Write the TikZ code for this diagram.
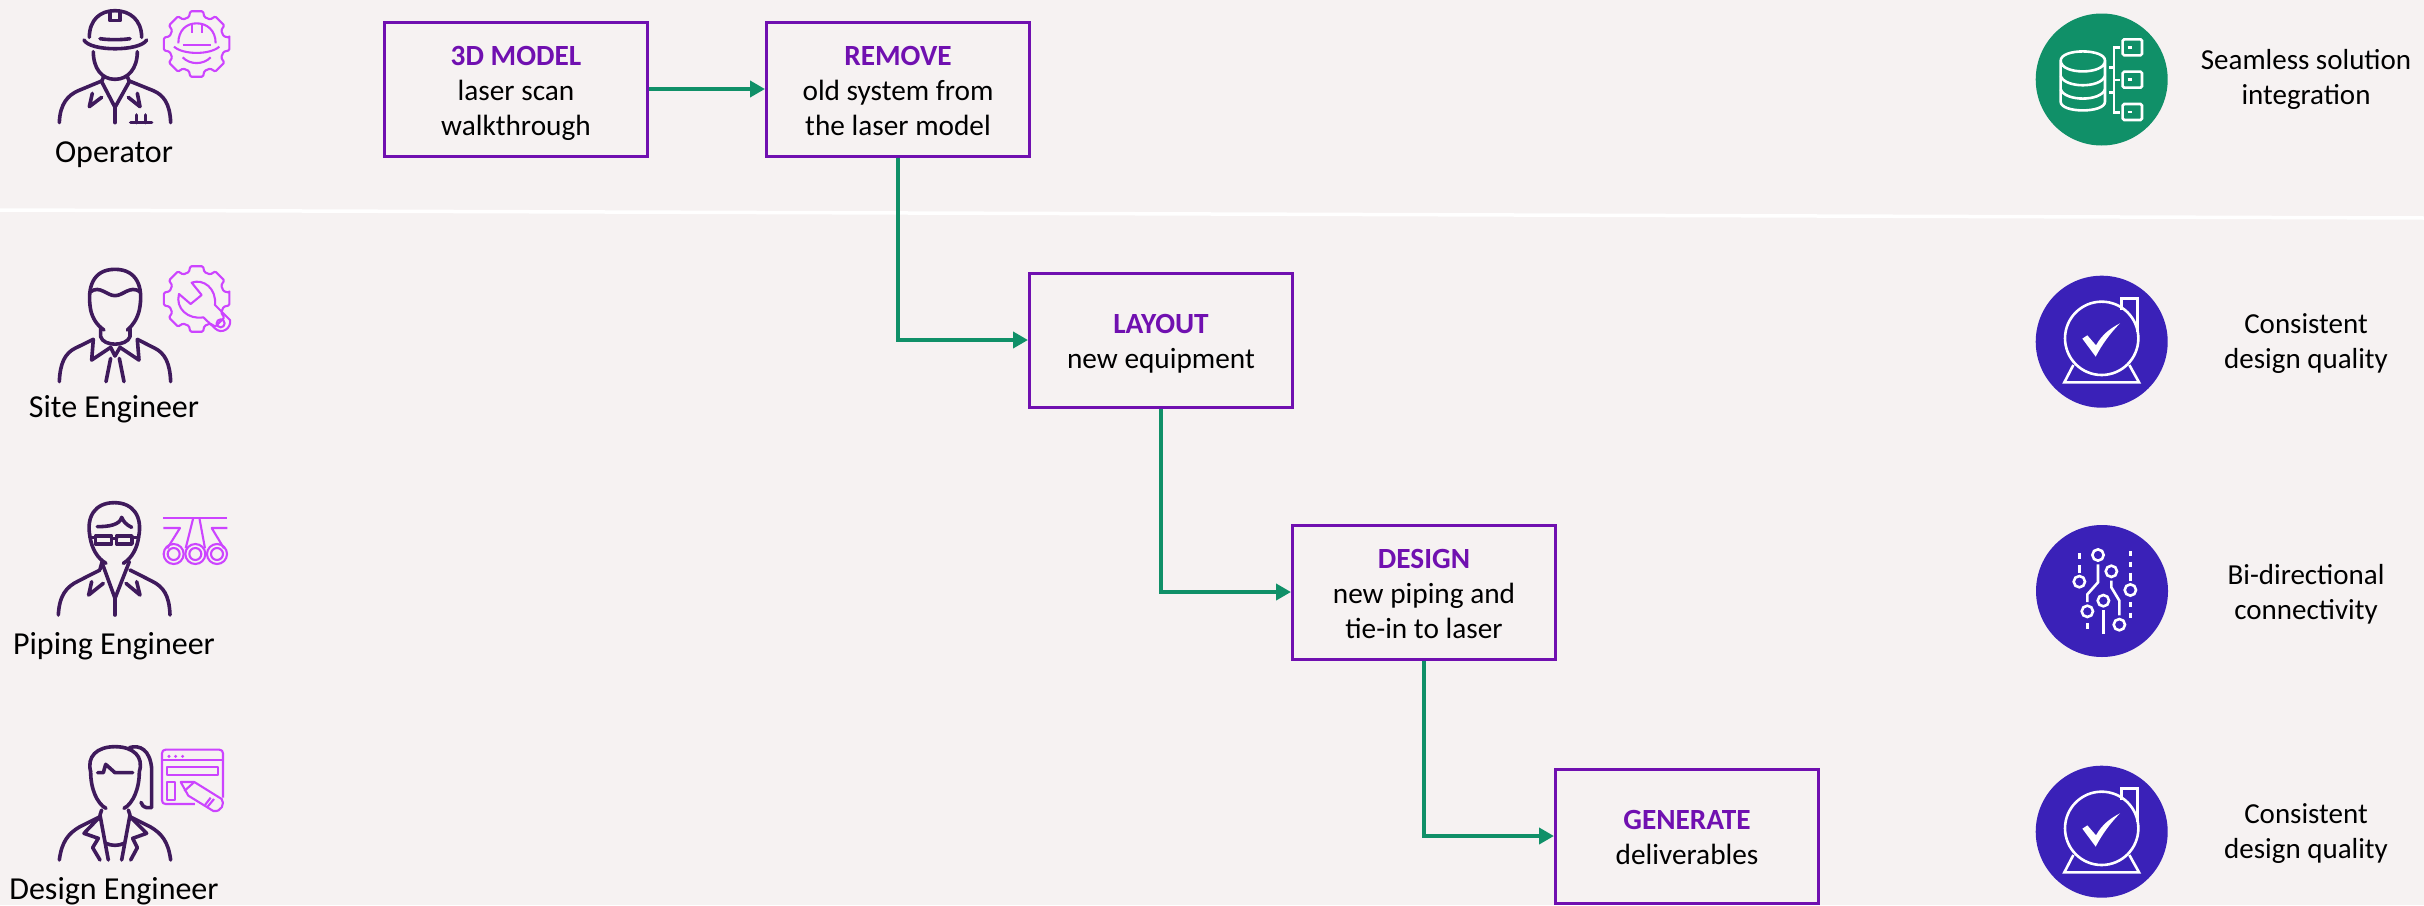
\documentclass[tikz,border=0pt]{standalone}
\usepackage{fontspec}
\setmainfont{Carlito}
\usetikzlibrary{arrows.meta,calc}
\definecolor{bgc}{HTML}{F6F2F2}
\definecolor{boxp}{HTML}{7010B0}
\definecolor{arrowg}{HTML}{109068}
\definecolor{blue1}{HTML}{3A21B8}
\definecolor{pers}{HTML}{3F1A5C}
\definecolor{mag}{HTML}{CC44FF}
\tikzset{
 x=1pt,y=-1pt,
 flow/.style={draw=boxp,line width=3pt,minimum width=263pt,minimum height=134pt,inner sep=0pt,align=center,font=\fontsize{29.3}{35}\selectfont},
 lbl/.style={align=center,inner sep=0pt,font=\fontsize{29}{35}\selectfont},
 plbl/.style={align=center,inner sep=0pt,font=\fontsize{32}{35}\selectfont},
 conn/.style={draw=arrowg,line width=4pt,-{Triangle[length=15pt,width=16pt]}},
 persline/.style={draw=pers,line width=3.6pt,line cap=round,line join=round},
 magline/.style={draw=mag,line width=2.1pt,line join=round},
 wline/.style={draw=white,line width=2.6pt},
 discg/.style={circle,fill=arrowg,minimum size=132pt,inner sep=0pt},
 discb/.style={circle,fill=blue1,minimum size=132pt,inner sep=0pt},
}
\newcommand{\ttl}[1]{\rule{0pt}{28pt}{\bfseries\color{boxp}#1}}
\newcommand{\lastl}[1]{\rule[-6pt]{0pt}{6pt}#1}
\newcommand{\gearpath}[2]{%
 \draw[magline,rounded corners=1.2pt] ($(#1,#2)+(-11:100)$)
 \foreach \a in {0,45,...,315}{ -- ($(#1,#2)+(\a-11:100)$) -- ($(#1,#2)+(\a+11:100)$) -- ($(#1,#2)+(\a+16:84)$) -- ($(#1,#2)+(\a+29:84)$) } -- cycle;
}
\begin{document}
\begin{tikzpicture}
\useasboundingbox (0,0) rectangle (2424,905);
\fill[bgc] (0,0) rectangle (2424,905);
\coordinate (wa) at (0,210);
\coordinate (wb) at (2424,218);
\draw[white,line width=3.5pt] (wa) -- (wb);

% flow boxes
\node[flow] (model) at (516,89) {\ttl{3D MODEL}\\laser scan\\\lastl{walkthrough}};
\node[flow] (remove) at (898,89) {\ttl{REMOVE}\\old system from\\\lastl{the laser model}};
\node[flow] (layout) at (1161,340) {\ttl{LAYOUT}\\\lastl{new equipment}};
\node[flow] (design) at (1424,592) {\ttl{DESIGN}\\new piping and\\\lastl{tie-in to laser}};
\node[flow] (generate) at (1687,836) {\ttl{GENERATE}\\\lastl{deliverables}};
\draw[conn] (model) -- (remove);
\draw[conn] (remove.south) |- (layout.west);
\draw[conn] (layout.south) |- (design.west);
\draw[conn] (design.south) |- (generate.west);

% person labels
\node[plbl] (op) at (114,155) {Operator};
\node[plbl] (site) at (114,409) {Site Engineer};
\node[plbl] (pipe) at (114,646) {Piping Engineer};
\node[plbl] (des) at (114,891) {Design Engineer};

% right labels
\node[lbl] (t1) at (2306,79) {Seamless solution\\integration};
\node[lbl] (t2) at (2306,344) {Consistent\\design quality};
\node[lbl] (t3) at (2306,594) {Bi-directional\\connectivity};
\node[lbl] (t4) at (2306,833.5) {Consistent\\design quality};

% discs
\node[discg] (d1) at (2101.7,79.5) {};
\node[discb] (d2) at (2101.7,341.7) {};
\node[discb] (d3) at (2102,591) {};
\node[discb] (d4) at (2101.7,831.7) {};

% ---- Operator
\begin{scope}[scale=1/3]
\draw[persline] (268,112) .. controls (268,60) and (300,32) .. (345,32) .. controls (390,32) and (425,60) .. (425,112);
\draw[persline] (252,120) .. controls (270,155) and (420,155) .. (440,120);
\draw[persline] (300,116) .. controls (325,120) and (365,120) .. (390,116);
\draw[persline] (330,36) -- (330,62) -- (360,62) -- (360,36);
\draw[persline] (280,155) .. controls (280,205) and (305,238) .. (345,238) .. controls (385,238) and (412,205) .. (412,155);
\draw[persline] (311,230) -- (305,245) -- (345,322) -- (388,245) -- (382,230);
\draw[persline] (178,368) .. controls (180,310) and (205,285) .. (235,272) -- (305,243);
\draw[persline] (512,368) .. controls (510,310) and (490,285) .. (460,272) -- (388,243);
\draw[persline] (277,280) -- (268,320) -- (305,292);
\draw[persline] (412,280) -- (420,320) -- (385,292);
\draw[persline] (345,322) -- (345,368);
\draw[persline] (392,368) -- (455,368) (410,345) -- (410,368) (437,345) -- (437,368);
% gear + helmet
\gearpath{590}{132}
\draw[magline] (535,130) .. controls (535,90) and (560,70) .. (590,70) .. controls (620,70) and (647,90) .. (647,130);
\draw[magline] (522,140) .. controls (550,165) and (630,165) .. (658,140);
\draw[magline] (548,135) -- (634,135);
\draw[magline] (575,72) -- (575,98) (605,72) -- (605,98);
\draw[magline] (548,172) .. controls (570,195) and (610,195) .. (632,172);
\end{scope}

% ---- Site engineer
\begin{scope}[shift={(0,230)},scale=1/3]
\draw[persline] (272,240) .. controls (260,170) and (280,118) .. (345,118) .. controls (410,118) and (432,170) .. (418,240) .. controls (412,265) and (400,285) .. (382,300);
\draw[persline] (272,240) .. controls (278,265) and (290,285) .. (312,300);
\draw[persline] (272,185) .. controls (300,165) and (320,197) .. (345,197) .. controls (370,197) and (390,165) .. (420,185);
\draw[persline] (302,295) -- (302,320) .. controls (310,350) and (380,350) .. (390,320) -- (390,295);
\draw[persline] (178,455) .. controls (180,400) and (195,370) .. (225,355) -- (280,328);
\draw[persline] (512,455) .. controls (510,400) and (495,370) .. (465,355) -- (412,328);
\draw[persline] (280,328) -- (275,390) -- (332,352) -- (345,378) -- (360,352) -- (417,390) -- (412,328);
\draw[persline] (332,385) -- (318,455) (358,385) -- (372,455);
\gearpath{590}{207}
\draw[magline] (575,158) .. controls (610,145) and (650,175) .. (645,225) -- (690,270) .. controls (695,295) and (665,315) .. (645,295) -- (610,262) .. controls (565,270) and (525,235) .. (537,192) -- (572,222) -- (605,195) -- cycle;
\draw[magline] (662,280) circle (12);
\end{scope}

% ---- Piping engineer
\begin{scope}[shift={(0,480)},scale=1/3]
\draw[persline] (270,170) .. controls (258,110) and (285,68) .. (343,68) .. controls (400,68) and (428,110) .. (416,170) .. controls (412,205) and (395,235) .. (370,250);
\draw[persline] (270,170) .. controls (275,205) and (292,235) .. (318,250);
\draw[persline] (292,140) .. controls (325,140) and (360,135) .. (365,112) .. controls (370,125) and (380,135) .. (395,142);
\draw[persline] (287,168) rectangle (335,192) (350,168) rectangle (396,192);
\draw[persline] (335,175) -- (350,175) (270,172) -- (287,172) (396,172) -- (416,172);
\draw[persline] (305,245) -- (345,355) -- (388,245);
\draw[persline] (305,250) -- (300,268);
\draw[persline] (175,405) .. controls (178,345) and (200,320) .. (235,303) -- (300,270);
\draw[persline] (510,405) .. controls (508,345) and (490,320) .. (455,303) -- (390,270);
\draw[persline] (275,305) -- (266,345) -- (310,310);
\draw[persline] (410,305) -- (420,345) -- (378,310);
\draw[persline] (345,355) -- (345,405);
% pipes
\draw[magline] (490,113) -- (682,113);
\draw[magline] (490,144) -- (540,144) -- (502,205);
\draw[magline] (682,144) -- (635,144) -- (672,205);
\draw[magline] (580,113) -- (557,205) (598,113) -- (615,205);
\draw[magline] (521,222) circle (30) (521,222) circle (18);
\draw[magline] (586,222) circle (30) (586,222) circle (18);
\draw[magline] (651,222) circle (30) (651,222) circle (18);
\end{scope}

% ---- Design engineer
\begin{scope}[shift={(0,705)},scale=1/3]
\draw[persline] (272,200) .. controls (260,155) and (290,125) .. (345,125) .. controls (400,125) and (432,155) .. (418,200) .. controls (418,250) and (400,295) .. (372,310);
\draw[persline] (272,200) .. controls (272,250) and (290,295) .. (318,310);
\draw[persline] (293,203) -- (310,203) -- (317,178) -- (345,203) -- (398,203);
\draw[persline] (388,128) .. controls (420,118) and (450,135) .. (455,190) -- (455,308) -- (440,308) .. controls (430,305) and (425,300) .. (423,292);
\draw[persline] (305,315) -- (300,330) -- (325,465);
\draw[persline] (385,315) -- (390,330) -- (365,465);
\draw[persline] (318,415) .. controls (335,423) and (355,423) .. (372,415);
\draw[persline] (178,465) .. controls (185,410) and (205,385) .. (240,365) -- (300,335);
\draw[persline] (512,465) .. controls (505,410) and (485,385) .. (450,365) -- (390,335);
\draw[persline] (300,335) -- (252,385) -- (295,400) -- (278,428) -- (300,465);
\draw[persline] (390,335) -- (440,385) -- (398,400) -- (412,428) -- (392,465);
% window icon
\draw[magline] (585,297) -- (497,297) .. controls (490,297) and (486,293) .. (486,286) -- (486,145) .. controls (486,138) and (490,134) .. (497,134) -- (658,134) .. controls (665,134) and (669,138) .. (669,145) -- (669,278);
\draw[magline] (486,165) -- (669,165);
\fill[mag] (507,154) circle (5) (527,154) circle (5) (548,154) circle (5);
\draw[magline] (500,186) rectangle (655,211);
\draw[magline] (500,230) rectangle (526,284);
\draw[magline] (542,231) -- (583,231) -- (665,282) .. controls (675,295) and (665,322) .. (640,318) -- (565,272) -- cycle;
\draw[magline] (583,231) -- (553,258);
\draw[magline] (642,282) -- (623,305) (632,278) -- (615,300);
\end{scope}

% ---- disc icons
\begin{scope}[shift={(2010,0)},scale=1/3]
\draw[wline] (152,182) .. controls (152,145) and (285,145) .. (285,182) .. controls (285,225) and (152,225) .. (152,182) -- (152,305) .. controls (152,340) and (285,340) .. (285,305) -- (285,182);
\draw[wline] (152,228) .. controls (165,265) and (272,265) .. (285,228);
\draw[wline] (152,268) .. controls (165,305) and (272,305) .. (285,268);
\draw[wline] (330,142) -- (312,142) -- (312,338) -- (330,338) (312,240) -- (330,240);
\draw[wline] (297,203) -- (312,203) (297,278) -- (312,278);
\foreach \yy in {142,239,336}{
\draw[wline,rounded corners=1.5pt] (338,\yy-24) rectangle (396,\yy+24);
\draw[wline] (353,\yy) -- (366,\yy);
}
\end{scope}

\foreach \sy in {260,750}{
\begin{scope}[shift={(2010,\sy)},scale=1/3]
\draw[wline] (275,235) circle (110);
\draw[wline] (335,150) -- (335,116) -- (383,116) -- (383,215);
\draw[wline] (190,315) -- (163,367) -- (387,367) -- (358,315);
\fill[white] (217,236) -- (232,226) -- (258,256) .. controls (275,225) and (300,205) .. (330,190) .. controls (300,220) and (275,255) .. (257,290) -- cycle;
\end{scope}
}

\begin{scope}[shift={(2010,510)},scale=1/3]
\foreach \cx/\cy in {264/135,304/184,208/215,361/240,280/272,232/304,328/344}{
\draw[wline] (\cx,\cy) circle (17);
}
\draw[wline] (264,163) -- (264,217) -- (232,253) -- (232,276);
\draw[wline] (304,212) -- (304,232) -- (328,272) -- (328,316);
\draw[wline] (280,300) -- (280,372);
\draw[wline] (208,130) -- (208,148) (208,165) -- (208,188);
\draw[wline] (232,340) -- (232,356);
\draw[wline] (361,123) -- (361,139) (361,155) -- (361,172) (361,188) -- (361,212);
\draw[wline] (361,276) -- (361,292) (361,308) -- (361,324);
\end{scope}
\end{tikzpicture}
\end{document}
